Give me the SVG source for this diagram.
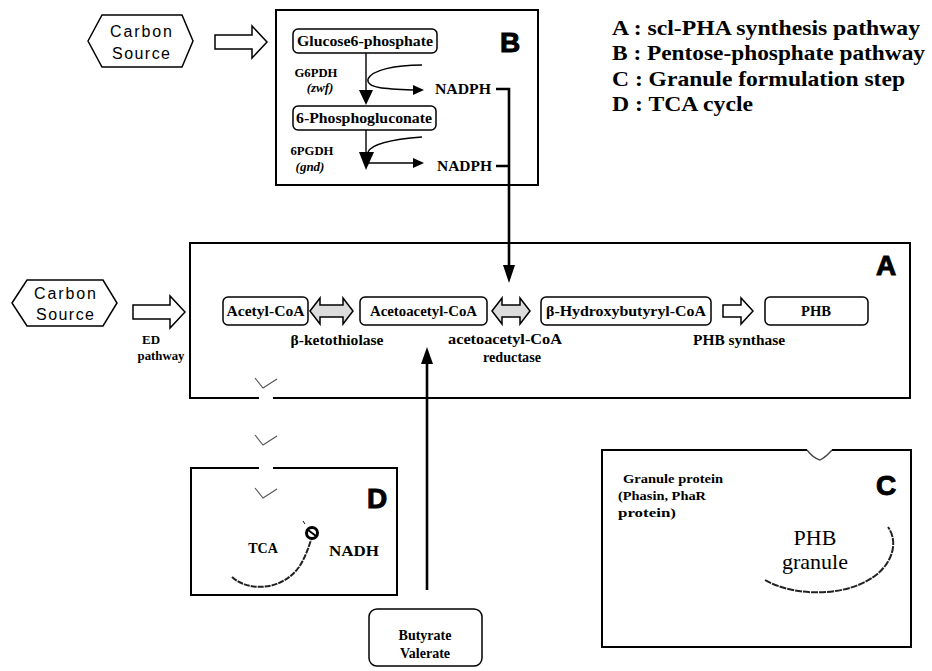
<svg xmlns="http://www.w3.org/2000/svg" width="932" height="671" viewBox="0 0 932 671">
<style>
.frame{fill:none;stroke:#000;stroke-width:2}
.node{fill:#fff;stroke:#000;stroke-width:1.5}
.hollow{fill:#fff;stroke:#000;stroke-width:1.5;stroke-linejoin:miter}
.dbl{fill:#dcdcdc;stroke:#000;stroke-width:1.5}
.ln{fill:none;stroke:#000;stroke-width:1.4}
.thick{fill:none;stroke:#000;stroke-width:2.6}
.chev{fill:none;stroke:#555;stroke-width:1.2}
.t{font-family:"Liberation Serif","Times New Roman",serif;font-weight:bold;font-size:14px;fill:#000}
.lab{font-family:"Liberation Serif","Times New Roman",serif;font-weight:bold;font-size:14px;fill:#000}
.sm{font-family:"Liberation Serif","Times New Roman",serif;font-weight:bold;font-size:13px;fill:#000}
.sans{font-family:"Liberation Sans",Arial,sans-serif;font-size:16px;fill:#000}
.big{font-family:"Liberation Sans",Arial,sans-serif;font-weight:bold;font-size:28px;fill:#000;stroke:#000;stroke-width:1}
.leg{font-family:"Liberation Serif","Times New Roman",serif;font-weight:bold;font-size:22px;fill:#000}
</style>
<rect width="932" height="671" fill="#fff"/>

<g id="legend">
<text class="leg" x="612" y="35" textLength="308" lengthAdjust="spacingAndGlyphs">A : scl-PHA synthesis pathway</text>
<text class="leg" x="612" y="60" textLength="313" lengthAdjust="spacingAndGlyphs">B : Pentose-phosphate pathway</text>
<text class="leg" x="612" y="86" textLength="293" lengthAdjust="spacingAndGlyphs">C : Granule formulation step</text>
<text class="leg" x="612" y="111" textLength="141" lengthAdjust="spacingAndGlyphs">D : TCA cycle</text>
</g>

<g id="carbonSource1">
<polygon class="node" points="88,41 102,15 182,15 193,41 182,67 102,67"/>
<text class="sans" x="141" y="37" text-anchor="middle" textLength="62">Carbon</text>
<text class="sans" x="141" y="59" text-anchor="middle" textLength="58">Source</text>
</g>

<g id="carbonSource2">
<polygon class="node" points="12,303 27,280 103,280 117,303 103,326 27,326"/>
<text class="sans" x="65" y="299" text-anchor="middle" textLength="62">Carbon</text>
<text class="sans" x="65" y="320" text-anchor="middle" textLength="58">Source</text>
</g>

<g id="boxB">
<rect class="frame" x="276" y="10" width="262" height="175"/>
<text class="big" x="500" y="52">B</text>
<text class="sm" x="316" y="77" text-anchor="middle" textLength="43" lengthAdjust="spacingAndGlyphs">G6PDH</text>
<text class="sm" x="320" y="92" text-anchor="middle" font-style="italic">(zwf)</text>
<text class="sm" x="312" y="155" text-anchor="middle" textLength="43" lengthAdjust="spacingAndGlyphs">6PGDH</text>
<text class="sm" x="310" y="171" text-anchor="middle" font-style="italic">(gnd)</text>
<text class="lab" x="435" y="94" textLength="56" lengthAdjust="spacingAndGlyphs">NADPH</text>
<text class="lab" x="437" y="171" textLength="55" lengthAdjust="spacingAndGlyphs">NADPH</text>
</g>

<g id="g6p">
<rect class="node" x="293" y="29" width="144" height="24" rx="5"/>
<text class="t" x="365" y="46" text-anchor="middle" textLength="136" lengthAdjust="spacingAndGlyphs">Glucose6-phosphate</text>
</g>

<g id="pg6">
<rect class="node" x="293" y="106" width="143" height="24" rx="5"/>
<text class="t" x="364" y="123" text-anchor="middle" textLength="136" lengthAdjust="spacingAndGlyphs">6-Phosphogluconate</text>
</g>

<g id="boxA">
<path class="frame" d="M259 398 H190 V243 H910 V398 H273"/>
<text class="big" x="876" y="275">A</text>
<text class="sm" x="151" y="344" text-anchor="middle">ED</text>
<text class="sm" x="161" y="360" text-anchor="middle" textLength="47" lengthAdjust="spacingAndGlyphs">pathway</text>
<text class="lab" x="337" y="345" text-anchor="middle" textLength="93" lengthAdjust="spacingAndGlyphs">β-ketothiolase</text>
<text class="lab" x="505" y="344" text-anchor="middle" textLength="114" lengthAdjust="spacingAndGlyphs">acetoacetyl-CoA</text>
<text class="lab" x="512" y="362" text-anchor="middle" textLength="58" lengthAdjust="spacingAndGlyphs">reductase</text>
<text class="lab" x="739" y="345" text-anchor="middle" textLength="92" lengthAdjust="spacingAndGlyphs">PHB synthase</text>
</g>

<g id="acetylCoA">
<rect class="node" x="223" y="297" width="85" height="28" rx="5"/>
<text class="t" x="265.5" y="316" text-anchor="middle" textLength="78" lengthAdjust="spacingAndGlyphs">Acetyl-CoA</text>
</g>
<g id="acetoacetylCoA">
<rect class="node" x="360" y="297" width="127" height="28" rx="5"/>
<text class="t" x="423.5" y="316" text-anchor="middle" textLength="107" lengthAdjust="spacingAndGlyphs">Acetoacetyl-CoA</text>
</g>
<g id="hydroxybutyrylCoA">
<rect class="node" x="541" y="297" width="170" height="28" rx="5"/>
<text class="t" x="626" y="316" text-anchor="middle" textLength="160" lengthAdjust="spacingAndGlyphs">β-Hydroxybutyryl-CoA</text>
</g>
<g id="phb">
<rect class="node" x="765" y="297" width="103" height="28" rx="5"/>
<text class="t" x="816" y="316" text-anchor="middle" textLength="30" lengthAdjust="spacingAndGlyphs">PHB</text>
</g>

<g id="boxD">
<path class="frame" d="M273 468 H397 V595 H191 V468 H259"/>
<text class="big" x="367" y="508" font-family="Liberation Serif, serif">D</text>
<text class="lab" x="263" y="553" text-anchor="middle" font-size="15">TCA</text>
<text class="lab" x="354" y="556" text-anchor="middle" font-size="15" textLength="50" lengthAdjust="spacingAndGlyphs">NADH</text>
<path d="M232 577 C247 591 281 592 299 567 C305 558 308 549 311 540" fill="none" stroke="#222" stroke-width="2" stroke-dasharray="6 1"/>
<circle cx="312" cy="533" r="5.5" fill="#fff" stroke="#000" stroke-width="3"/>
<line x1="308" y1="530" x2="316" y2="536" stroke="#000" stroke-width="2"/>
<line x1="303" y1="521" x2="305" y2="524" stroke="#000" stroke-width="1"/>
</g>

<g id="boxC">
<path class="frame" d="M807 450 H602 V647 H911 V450 H832"/>
<path d="M807 450 Q813 458 820 460 Q826 457 832 450" fill="none" stroke="#444" stroke-width="1.3"/>
<text class="big" x="876" y="495">C</text>
<text class="sm" x="623" y="483" textLength="100" lengthAdjust="spacingAndGlyphs">Granule protein</text>
<text class="sm" x="618" y="500" textLength="88" lengthAdjust="spacingAndGlyphs">(Phasin, PhaR</text>
<text class="sm" x="618" y="517" textLength="58" lengthAdjust="spacingAndGlyphs">protein)</text>
<text x="815" y="545" text-anchor="middle" font-family="Liberation Serif, serif" font-size="22" fill="#000">PHB</text>
<text x="815" y="569" text-anchor="middle" font-family="Liberation Serif, serif" font-size="22" fill="#000">granule</text>
<path d="M765 580 C800 600 862 596 885 566 C897 550 894 535 888 527" fill="none" stroke="#222" stroke-width="2" stroke-dasharray="7 1"/>
</g>

<g id="butyrate">
<rect class="node" x="369" y="609" width="113" height="57" rx="8"/>
<text class="t" x="425" y="640" text-anchor="middle">Butyrate</text>
<text class="t" x="425" y="658" text-anchor="middle">Valerate</text>
</g>

<g id="connectors">
<path class="hollow" d="M215 35 L252 35 L252 26 L267 42 L252 58 L252 49 L215 49 Z"/>
<path class="hollow" d="M133 305 L170 305 L170 296 L185 312 L170 328 L170 319 L133 319 Z"/>
<path class="dbl" d="M310 311 L320 298 L320 305 L343 305 L343 298 L353 311 L343 324 L343 317 L320 317 L320 324 Z"/>
<path class="dbl" d="M492 311 L502 298 L502 305 L520 305 L520 298 L530 311 L520 324 L520 317 L502 317 L502 324 Z"/>
<path class="hollow" d="M723 305 L741 305 L741 298 L753 311 L741 324 L741 317 L723 317 Z"/>
<line class="ln" x1="366" y1="53" x2="366" y2="92"/>
<polygon points="359,90 373,90 366,105" fill="#000"/>
<line class="ln" x1="366" y1="130" x2="366" y2="154"/>
<polygon points="359,152 374,152 366,170" fill="#000"/>
<path class="ln" d="M422 65 C395 65 372 70 368 79 C366 88 385 89 413 90"/>
<polygon points="413,85 424,90 413,95" fill="#000"/>
<path class="ln" d="M422 137 C395 139 372 143 368 152"/>
<line class="ln" x1="366" y1="163" x2="413" y2="163"/>
<polygon points="413,158 424,163 413,168" fill="#000"/>
<path class="thick" d="M496 89 H509 V266 M496 166 H509"/>
<polygon points="503,265 515,265 509,283" fill="#000"/>
<line class="thick" x1="427" y1="590" x2="427" y2="362"/>
<polygon points="421,364 433,364 427,347" fill="#000"/>
<polyline class="chev" points="255,378 263,388 277,379"/>
<polyline class="chev" points="255,435 263,445 277,436"/>
<polyline class="chev" points="255,488 263,498 277,489"/>
</g>
</svg>
